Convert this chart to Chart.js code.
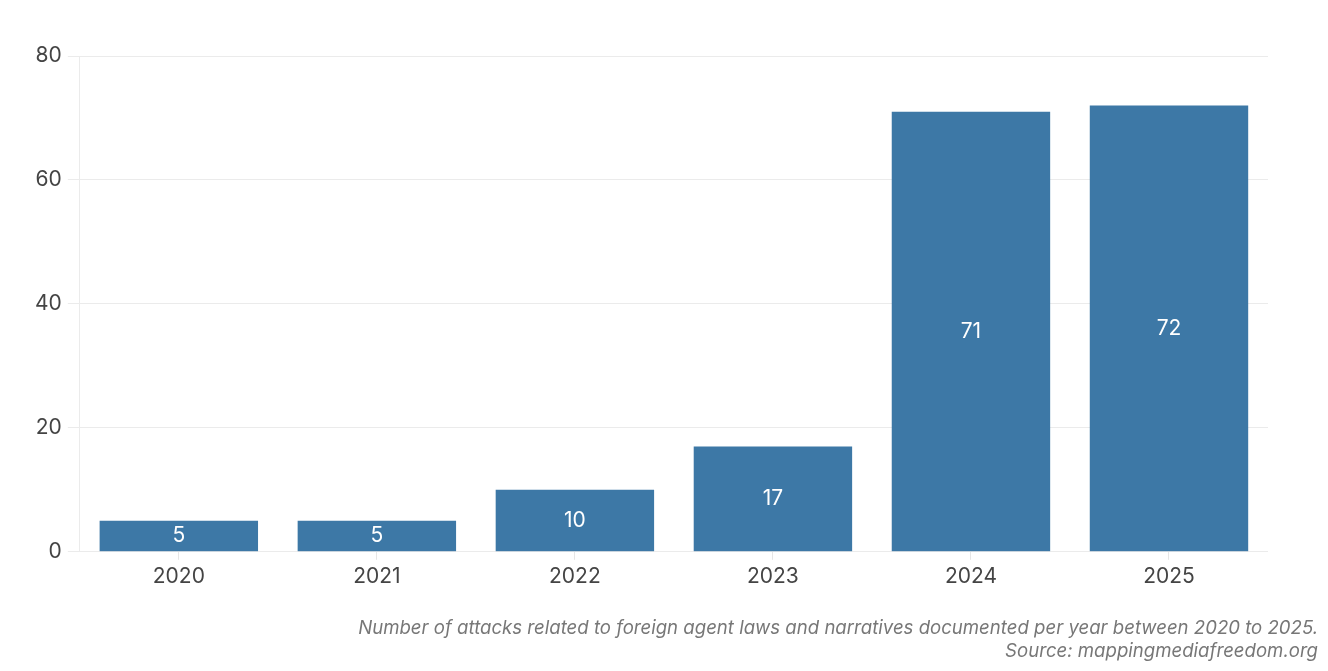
<!DOCTYPE html>
<html>
<head>
<meta charset="utf-8">
<script src="https://cdn.jsdelivr.net/npm/chart.js@4.4.1/dist/chart.umd.min.js"></script>
<style>
  html, body { margin: 0; padding: 0; background: #fff; }
  #wrap { width: 1328px; height: 671px; position: relative; }
</style>
</head>
<body>
<div id="wrap"><canvas id="chart"></canvas></div>
<script>
const years = ["2020", "2021", "2022", "2023", "2024", "2025"];
const attacks = [5, 5, 10, 17, 71, 72];
const yTicks = [0, 20, 40, 60, 80];
const caption = [
  "Number of attacks related to foreign agent laws and narratives documented per year between 2020 to 2025.",
  "Source: mappingmediafreedom.org"
];

// white value labels drawn in the middle of each bar
const centerLabels = {
  id: "centerLabels",
  afterDatasetsDraw(chart) {
    const ctx = chart.ctx;
    const meta = chart.getDatasetMeta(0);
    ctx.save();
    ctx.fillStyle = "#ffffff";
    ctx.font = "21px Inter";
    ctx.textAlign = "center";
    ctx.textBaseline = "middle";
    meta.data.forEach((bar, i) => {
      const mid = (bar.y + bar.base) / 2;
      ctx.fillText(String(attacks[i]), bar.x, mid);
    });
    ctx.restore();
  }
};

// caption under the chart, right aligned to the canvas edge
const captionText = {
  id: "captionText",
  afterDraw(chart) {
    const ctx = chart.ctx;
    ctx.save();
    ctx.fillStyle = "#777777";
    ctx.font = "italic 18.6px Inter";
    ctx.textAlign = "right";
    ctx.textBaseline = "middle";
    const right = chart.width - 10;
    caption.forEach((line, i) => {
      ctx.fillText(line, right, 628 + i * 23);
    });
    ctx.restore();
  }
};

new Chart(document.getElementById("chart"), {
  type: "bar",
  data: {
    labels: years,
    datasets: [{
      data: attacks,
      backgroundColor: "#3d78a6",
      categoryPercentage: 0.8,
      barPercentage: 1.0
    }]
  },
  options: {
    responsive: true,
    maintainAspectRatio: false,
    animation: false,
    layout: { padding: { left: 29, right: 60, top: 56, bottom: 78 } },
    plugins: {
      legend: { display: false },
      tooltip: { enabled: false }
    },
    scales: {
      x: {
        grid: { display: true, offset: false, drawOnChartArea: false, color: "#e6e6e6", tickLength: 8 },
        border: { display: false },
        ticks: { color: "#444444", font: { family: "Inter", size: 21 }, padding: 4 }
      },
      y: {
        min: 0,
        max: 80,
        afterBuildTicks(axis) { axis.ticks = yTicks.map(v => ({ value: v })); },
        grid: { color: "#ebebeb", tickLength: 12 },
        border: { display: true, color: "#ebebeb" },
        ticks: { color: "#444444", font: { family: "Inter", size: 21 }, padding: 6 }
      }
    }
  },
  plugins: [centerLabels, captionText]
});
</script>
</body>
</html>
